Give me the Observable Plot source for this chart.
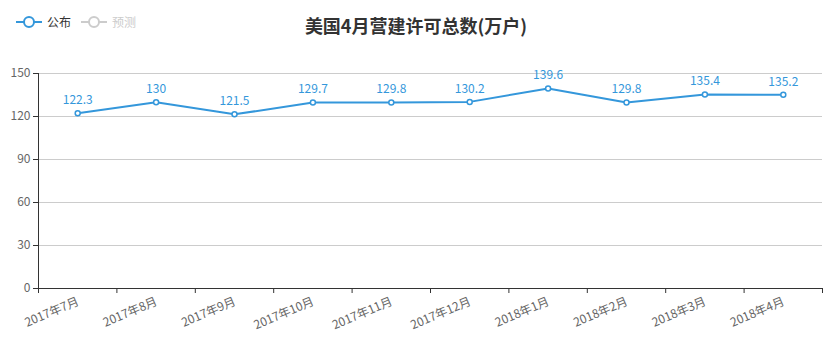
<!DOCTYPE html>
<html>
<head>
<meta charset="utf-8">
<script src="https://cdn.jsdelivr.net/npm/d3@7"></script>
<script src="https://cdn.jsdelivr.net/npm/@observablehq/plot@0.6"></script>
<style>
  html, body { margin: 0; padding: 0; background: #fff; }
  body { width: 840px; height: 357px; position: relative; overflow: hidden;
         font-family: "Noto Sans CJK SC", "Noto Sans", sans-serif; }
  #chart { position: absolute; left: 0; top: 0; }
  #title { position: absolute; left: 0; width: 832px; top: 12px; text-align: center;
           font-size: 18px; font-weight: bold; color: #333; line-height: 26px; }
  #legend { position: absolute; left: 16px; top: 13px; font-size: 12px; line-height: 18px;
            display: flex; align-items: center; }
  .item { display: flex; align-items: center; margin-right: 10px; }
  .item span { margin-left: 5px; }
  g[aria-label^="y-axis"] text, g[aria-label^="x-axis"] text { fill: #666; }
</style>
</head>
<body>
<div id="chart"></div>
<div id="title"></div>
<div id="legend"></div>
<script>
const title = "美国4月营建许可总数(万户)";
const seriesNames = ["公布", "预测"];
const categories = ["2017年7月","2017年8月","2017年9月","2017年10月","2017年11月","2017年12月","2018年1月","2018年2月","2018年3月","2018年4月"];
const published = [122.3, 130, 121.5, 129.7, 129.8, 130.2, 139.6, 129.8, 135.4, 135.2];
const yTicks = [0, 30, 60, 90, 120, 150];

const blue = "#3497db";
const data = categories.map((c, i) => ({i, c, v: published[i]}));

const plot = Plot.plot({
  width: 840,
  height: 357,
  marginLeft: 38,
  marginRight: 18,
  marginTop: 73,
  marginBottom: 69,
  style: {fontFamily: '"Noto Sans CJK SC", "Noto Sans", sans-serif', fontSize: "12px", color: "#333", background: "#fff"},
  x: {domain: [0, categories.length], ticks: d3.range(categories.length + 1), tickFormat: () => "", tickSize: 5, label: null},
  y: {domain: [0, 150], ticks: yTicks, tickSize: 5, tickPadding: 3, label: null},
  marks: [
    Plot.ruleY(yTicks.filter(d => d > 0), {stroke: "#ccc", strokeWidth: 1}),
    Plot.ruleY([0], {stroke: "#333"}),
    Plot.ruleX([0], {stroke: "#333"}),
    Plot.line(data, {x: d => d.i + 0.5, y: "v", stroke: blue, strokeWidth: 2}),
    Plot.dot(data, {x: d => d.i + 0.5, y: "v", r: 2.5, stroke: blue, fill: "#fff", strokeWidth: 1.5}),
    Plot.text(data, {x: d => d.i + 0.5, y: "v", text: d => String(d.v), dy: -13, fill: blue, fontSize: 12}),
    Plot.text(data, {x: d => d.i + 0.5, text: "c", frameAnchor: "bottom", dy: 16, dx: 2, rotate: -23, textAnchor: "end", fill: "#666", fontSize: 12})
  ]
});
document.getElementById("chart").appendChild(plot);
document.getElementById("title").textContent = title;

const legendColors = [blue, "#ccc"];
const textColors = ["#333", "#ccc"];
const legend = document.getElementById("legend");
seriesNames.forEach((n, k) => {
  const it = document.createElement("div");
  it.className = "item";
  it.innerHTML = `<svg width="26" height="14"><line x1="0" y1="7" x2="26" y2="7" stroke="${legendColors[k]}" stroke-width="2"/><circle cx="13" cy="7" r="5" fill="#fff" stroke="${legendColors[k]}" stroke-width="2"/></svg><span style="color:${textColors[k]}">${n}</span>`;
  legend.appendChild(it);
});
</script>
</body>
</html>
